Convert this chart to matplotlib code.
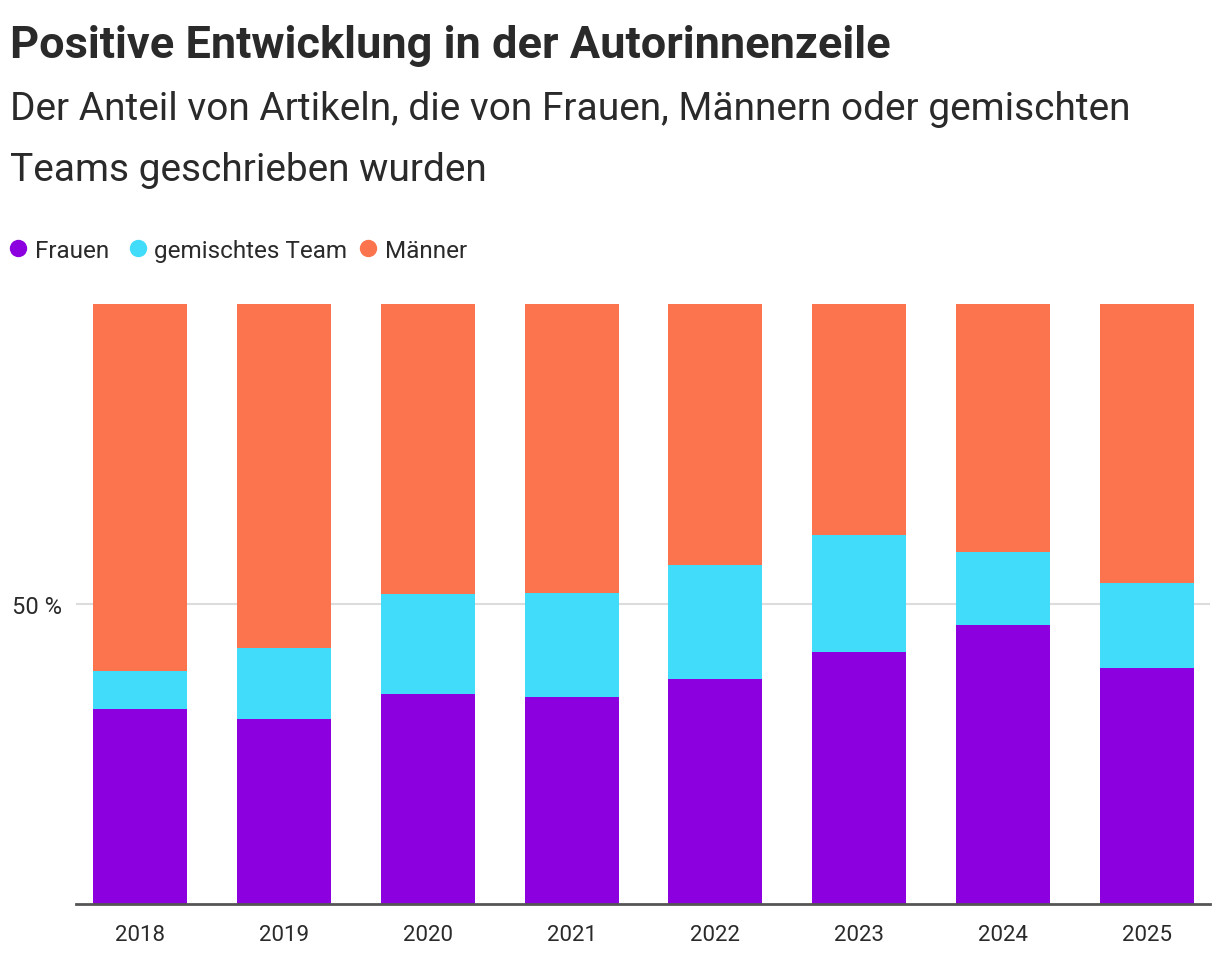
import matplotlib.pyplot as plt
from matplotlib.lines import Line2D

years = ['2018', '2019', '2020', '2021', '2022', '2023', '2024', '2025']
frauen = [32.5, 30.7, 34.9, 34.5, 37.4, 42.0, 46.4, 39.2]
gemischt = [6.2, 11.9, 16.8, 17.3, 19.0, 19.5, 12.2, 14.3]
maenner = [100 - f - g for f, g in zip(frauen, gemischt)]

legend_labels = ['Frauen', 'gemischtes Team', 'Männer']

c_frauen = '#8c00e0'
c_gemischt = '#40dcfa'
c_maenner = '#fc744e'
txt = '#2a2a2a'

plt.rcParams['font.family'] = ['Roboto', 'DejaVu Sans']

W, H = 1220, 962
fig = plt.figure(figsize=(W / 100, H / 100), dpi=100)
ax = fig.add_axes([76 / W, 57.5 / H, (1210 - 76) / W, 599.5 / H])

x = list(range(len(years)))
w = 0.653
ax.bar(x, frauen, width=w, color=c_frauen, zorder=3)
ax.bar(x, gemischt, width=w, bottom=frauen, color=c_gemischt, zorder=3)
bottom3 = [f + g for f, g in zip(frauen, gemischt)]
ax.bar(x, maenner, width=w, bottom=bottom3, color=c_maenner, zorder=3)

ax.set_xlim(-0.444, 7.4375)
ax.set_ylim(0, 100)
ax.set_yticks([50])
ax.set_yticklabels(['50 %'])
ax.yaxis.grid(True, color='#dcdcdc', linewidth=1.5, zorder=0)
ax.set_xticks(x)
ax.set_xticklabels(years)
ax.tick_params(axis='both', length=0, colors=txt)
ax.tick_params(axis='x', labelsize=16, pad=15)
ax.tick_params(axis='y', labelsize=17, pad=10)
for s in ['top', 'right', 'left']:
    ax.spines[s].set_visible(False)
ax.spines['bottom'].set_color('#555555')
ax.spines['bottom'].set_linewidth(2)
ax.spines['bottom'].set_zorder(4)

fig.text(10 / W, 1 - 58 / H, 'Positive Entwicklung in der Autorinnenzeile',
         fontsize=32.5, fontweight='bold', color=txt, va='baseline', ha='left')
fig.text(10 / W, 1 - 120 / H, 'Der Anteil von Artikeln, die von Frauen, Männern oder gemischten',
         fontsize=28, color=txt, va='baseline', ha='left')
fig.text(10 / W, 1 - 181 / H, 'Teams geschrieben wurden',
         fontsize=28, color=txt, va='baseline', ha='left')

# legend drawn by hand
dot_x = [18, 138, 368]
text_x = [35, 154, 385]
for dx, tx, c, lab in zip(dot_x, text_x, [c_frauen, c_gemischt, c_maenner], legend_labels):
    fig.add_artist(Line2D([dx / W], [1 - 249 / H], marker='o', markersize=11.5, linestyle='',
                          color=c, transform=fig.transFigure))
    fig.text(tx / W, 1 - 258 / H, lab, fontsize=17.5, color=txt, va='baseline', ha='left')

fig.savefig('out.png', dpi=100)
